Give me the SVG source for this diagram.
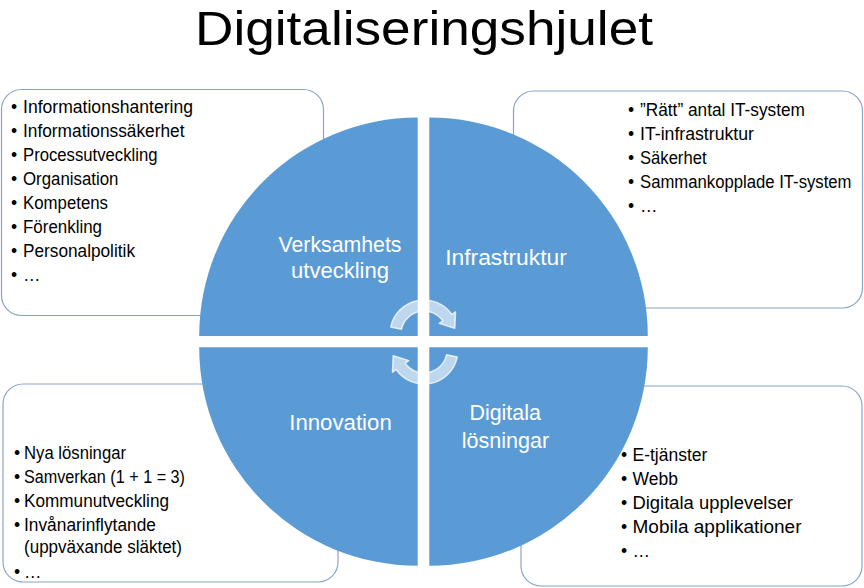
<svg xmlns="http://www.w3.org/2000/svg" width="864" height="588" viewBox="0 0 864 588">
  <style>
    .box { fill: #ffffff; stroke: #8AA4C8; stroke-width: 1.2; }
    .quad { fill: #5B9BD5; }
    .item { font-family: "Liberation Sans", Arial, sans-serif; font-size: 17.5px; fill: #000000; }
    .lbl { font-family: "Liberation Sans", Arial, sans-serif; font-size: 22.5px; fill: #ffffff; text-anchor: middle; }
    .title { font-family: "Liberation Sans", Arial, sans-serif; font-size: 49px; fill: #000000; text-anchor: middle; }
    .cyc { fill: #ffffff; fill-opacity: 0.6; stroke: #ffffff; stroke-opacity: 0.75; stroke-width: 1.5; stroke-linejoin: round; }
  </style>
  <rect width="864" height="588" fill="#ffffff"/>

  <g id="title">
    <text class="title" x="424" y="44.5" textLength="458" lengthAdjust="spacingAndGlyphs">Digitaliseringshjulet</text>
  </g>

  <g id="box-verksamhet">
    <rect class="box" x="1.5" y="89.5" width="322" height="226" rx="20"/>
    <text class="item" x="11" y="113">•</text><text class="item" x="23" y="113" textLength="170" lengthAdjust="spacingAndGlyphs">Informationshantering</text>
    <text class="item" x="11" y="137">•</text><text class="item" x="23" y="137" textLength="161.5" lengthAdjust="spacingAndGlyphs">Informationssäkerhet</text>
    <text class="item" x="11" y="161">•</text><text class="item" x="23" y="161" textLength="134.5" lengthAdjust="spacingAndGlyphs">Processutveckling</text>
    <text class="item" x="11" y="185">•</text><text class="item" x="23" y="185" textLength="95.5" lengthAdjust="spacingAndGlyphs">Organisation</text>
    <text class="item" x="11" y="209">•</text><text class="item" x="23" y="209" textLength="85" lengthAdjust="spacingAndGlyphs">Kompetens</text>
    <text class="item" x="11" y="233">•</text><text class="item" x="23" y="233" textLength="79" lengthAdjust="spacingAndGlyphs">Förenkling</text>
    <text class="item" x="11" y="257">•</text><text class="item" x="23" y="257" textLength="112" lengthAdjust="spacingAndGlyphs">Personalpolitik</text>
    <text class="item" x="11" y="281">•</text><text class="item" x="23" y="281">…</text>
  </g>

  <g id="box-infrastruktur">
    <rect class="box" x="513.5" y="91" width="349" height="217" rx="20"/>
    <text class="item" x="628" y="116">•</text><text class="item" x="640" y="116" textLength="165" lengthAdjust="spacingAndGlyphs">”Rätt” antal IT-system</text>
    <text class="item" x="628" y="140">•</text><text class="item" x="640" y="140" textLength="114" lengthAdjust="spacingAndGlyphs">IT-infrastruktur</text>
    <text class="item" x="628" y="164">•</text><text class="item" x="640" y="164" textLength="66.5" lengthAdjust="spacingAndGlyphs">Säkerhet</text>
    <text class="item" x="628" y="188">•</text><text class="item" x="640" y="188" textLength="211.5" lengthAdjust="spacingAndGlyphs">Sammankopplade IT-system</text>
    <text class="item" x="628" y="212">•</text><text class="item" x="640" y="212">…</text>
  </g>

  <g id="box-innovation">
    <rect class="box" x="3" y="384" width="335" height="198" rx="20"/>
    <text class="item" x="14" y="459">•</text><text class="item" x="24" y="459" textLength="102" lengthAdjust="spacingAndGlyphs">Nya lösningar</text>
    <text class="item" x="14" y="483">•</text><text class="item" x="24" y="483" textLength="161" lengthAdjust="spacingAndGlyphs">Samverkan (1 + 1 = 3)</text>
    <text class="item" x="14" y="507">•</text><text class="item" x="24" y="507" textLength="145" lengthAdjust="spacingAndGlyphs">Kommunutveckling</text>
    <text class="item" x="14" y="531">•</text><text class="item" x="24" y="531" textLength="132" lengthAdjust="spacingAndGlyphs">Invånarinflytande</text>
    <text class="item" x="24" y="553" textLength="158" lengthAdjust="spacingAndGlyphs">(uppväxande släktet)</text>
    <text class="item" x="14" y="578">•</text><text class="item" x="24" y="578">…</text>
  </g>

  <g id="box-digitala">
    <rect class="box" x="521" y="386" width="341" height="200" rx="20"/>
    <text class="item" x="621" y="461">•</text><text class="item" x="632.5" y="461">E-tjänster</text>
    <text class="item" x="621" y="485">•</text><text class="item" x="632.5" y="485">Webb</text>
    <text class="item" x="621" y="509">•</text><text class="item" x="632.5" y="509" textLength="160.5" lengthAdjust="spacingAndGlyphs">Digitala upplevelser</text>
    <text class="item" x="621" y="533">•</text><text class="item" x="632.5" y="533" textLength="169" lengthAdjust="spacingAndGlyphs">Mobila applikationer</text>
    <text class="item" x="621" y="557">•</text><text class="item" x="632.5" y="557">…</text>
  </g>

  <g id="quad-verksamhet">
    <path class="quad" d="M417.7,336 L199.2,336 A218.5,218.5 0 0 1 417.7,117.5 Z"/>
    <text class="lbl" x="340" y="252" textLength="123" lengthAdjust="spacingAndGlyphs">Verksamhets</text>
    <text class="lbl" x="340" y="278" textLength="98" lengthAdjust="spacingAndGlyphs">utveckling</text>
  </g>
  <g id="quad-infrastruktur">
    <path class="quad" d="M429.3,336 L429.3,117.5 A218.5,218.5 0 0 1 647.8,336 Z"/>
    <text class="lbl" x="506" y="265" textLength="121.5" lengthAdjust="spacingAndGlyphs">Infrastruktur</text>
  </g>
  <g id="quad-innovation">
    <path class="quad" d="M417.7,347.3 L417.7,565.8 A218.5,218.5 0 0 1 199.2,347.3 Z"/>
    <text class="lbl" x="340.5" y="430" textLength="102.5" lengthAdjust="spacingAndGlyphs">Innovation</text>
  </g>
  <g id="quad-digitala">
    <path class="quad" d="M429.3,347.3 L647.8,347.3 A218.5,218.5 0 0 1 429.3,565.8 Z"/>
    <text class="lbl" x="505.2" y="420" textLength="71.5" lengthAdjust="spacingAndGlyphs">Digitala</text>
    <text class="lbl" x="505.5" y="448" textLength="87.5" lengthAdjust="spacingAndGlyphs">lösningar</text>
  </g>

  <g id="connectors">
    <path id="cycle-top" class="cyc" d="M390.75,326.9 A34,34 0 0 1 451.85,314.5 L455.5,311.9 L454.8,328.3 L439.2,323.4 L442.8,320.8 A23,23 0 0 0 401.5,329.2 Z"/>
    <path id="cycle-bottom" class="cyc" transform="rotate(180 424 342)" d="M390.75,326.9 A34,34 0 0 1 451.85,314.5 L455.5,311.9 L454.8,328.3 L439.2,323.4 L442.8,320.8 A23,23 0 0 0 401.5,329.2 Z"/>
  </g>
</svg>
